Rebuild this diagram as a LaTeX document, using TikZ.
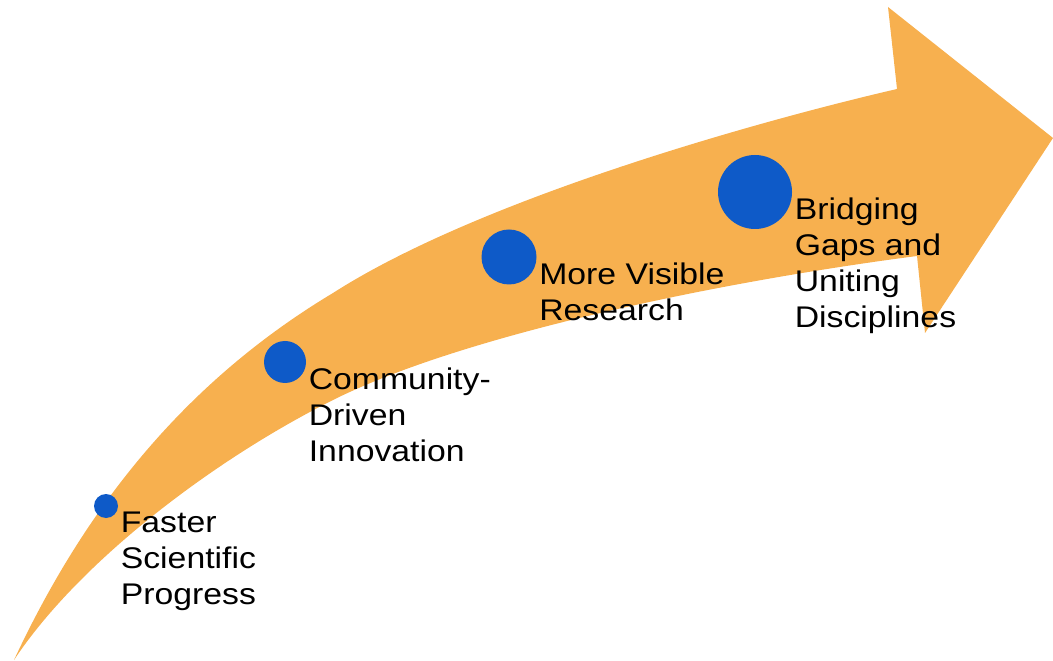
\documentclass[tikz,border=0pt]{standalone}
\usepackage{fontspec}
\setmainfont{Liberation Sans}[FakeStretch=1.13]
\usetikzlibrary{calc,positioning}
\definecolor{arroworange}{RGB}{247,176,79}
\definecolor{dotblue}{RGB}{14,90,200}
\tikzset{milestonetext/.style={anchor=north west,inner sep=0,align=left,font=\fontsize{17}{20.4}\selectfont}}
\newcommand{\milestone}[3]{%
  \fill[dotblue] (#1) circle(#2);
  \node[milestonetext] (#1-text) at ($(#1)+(#2+2.5,6)$) {#3};}

\begin{document}
\begin{tikzpicture}[x=0.02cm,y=-0.02cm]
  \useasboundingbox (0,0) rectangle (1053,661);
  % draw arrow
  \fill[arroworange] (14,660) .. controls (84,510) and (183,383) .. (333,293)
    .. controls (483,197) and (767,119) .. (897,89)
    -- (888,7) -- (1053,138) -- (925,333) -- (917,256)
    .. controls (717,282) and (463,335) .. (333,400)
    .. controls (213,460) and (79,562) .. (14,660) -- cycle;
  % draw milestones
  \coordinate (faster)    at (106,506);
  \coordinate (community) at (285,362);
  \coordinate (visible)   at (509,257);
  \coordinate (bridging)  at (755,192);
  \milestone{faster}{12}{Faster\\Scientific\\Progress}
  \milestone{community}{21}{Community-\\Driven\\Innovation}
  \milestone{visible}{27.5}{More Visible\\Research}
  \milestone{bridging}{37}{Bridging\\Gaps and\\Uniting\\Disciplines}
\end{tikzpicture}
\end{document}
